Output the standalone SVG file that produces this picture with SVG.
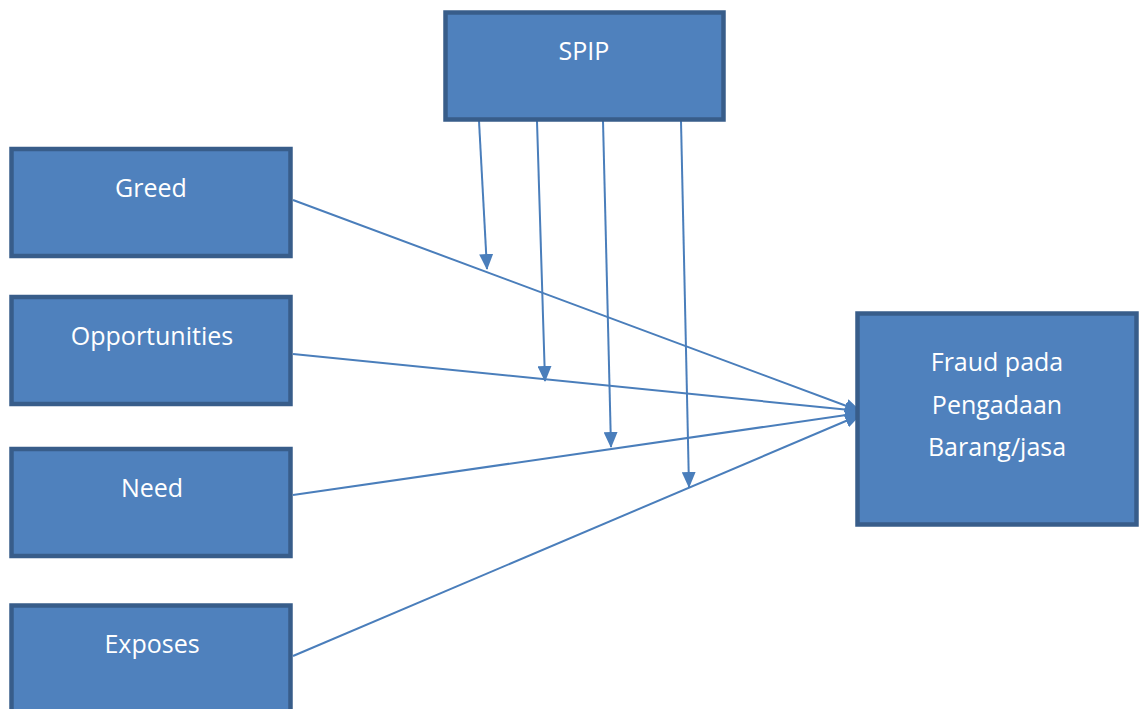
<svg xmlns="http://www.w3.org/2000/svg" width="1143" height="709" viewBox="0 0 1143 709">
  <defs>
    <marker id="arrow" viewBox="0 0 16 14" refX="15" refY="7" markerWidth="16" markerHeight="14" markerUnits="userSpaceOnUse" orient="auto">
      <path d="M0,0 L16,7 L0,14 Z" fill="#4A7EBB"/>
    </marker>
    <style>
      .box { fill: #4F81BD; stroke: #385D8A; stroke-width: 4.5; }
      .label { fill: #FFFFFF; font-family: "Open Sans", "Liberation Sans", sans-serif; font-size: 25px; text-anchor: middle; }
      .link { stroke: #4A7EBB; stroke-width: 2; fill: none; marker-end: url(#arrow); }
    </style>
  </defs>
  <rect width="1143" height="709" fill="#FFFFFF"/>

  <g id="connectors">
    <line class="link" x1="293" y1="200" x2="860" y2="411"/>
    <line class="link" x1="293" y1="354" x2="860" y2="411"/>
    <line class="link" x1="293" y1="495" x2="860" y2="413"/>
    <line class="link" x1="293" y1="656" x2="860" y2="415"/>
    <line class="link" x1="479" y1="121" x2="487" y2="269"/>
    <line class="link" x1="537" y1="121" x2="545" y2="381"/>
    <line class="link" x1="603" y1="121" x2="611" y2="447"/>
    <line class="link" x1="681" y1="121" x2="689" y2="487"/>
  </g>

  <g id="spip">
    <rect class="box" x="445.5" y="12.5" width="278" height="107"/>
    <text class="label" x="584" y="60">SPIP</text>
  </g>
  <g id="greed">
    <rect class="box" x="11.5" y="149" width="279" height="107"/>
    <text class="label" x="151" y="197">Greed</text>
  </g>
  <g id="opportunities">
    <rect class="box" x="11.5" y="297" width="279" height="107"/>
    <text class="label" x="152" y="345">Opportunities</text>
  </g>
  <g id="need">
    <rect class="box" x="11.5" y="449" width="279" height="107"/>
    <text class="label" x="152" y="497">Need</text>
  </g>
  <g id="exposes">
    <rect class="box" x="11.5" y="605.5" width="279" height="110"/>
    <text class="label" x="152" y="653">Exposes</text>
  </g>
  <g id="fraud">
    <rect class="box" x="857.5" y="313.5" width="279" height="211"/>
    <text class="label" x="997" y="371">Fraud pada</text>
    <text class="label" x="997" y="414">Pengadaan</text>
    <text class="label" x="997" y="456">Barang/jasa</text>
  </g>
</svg>
